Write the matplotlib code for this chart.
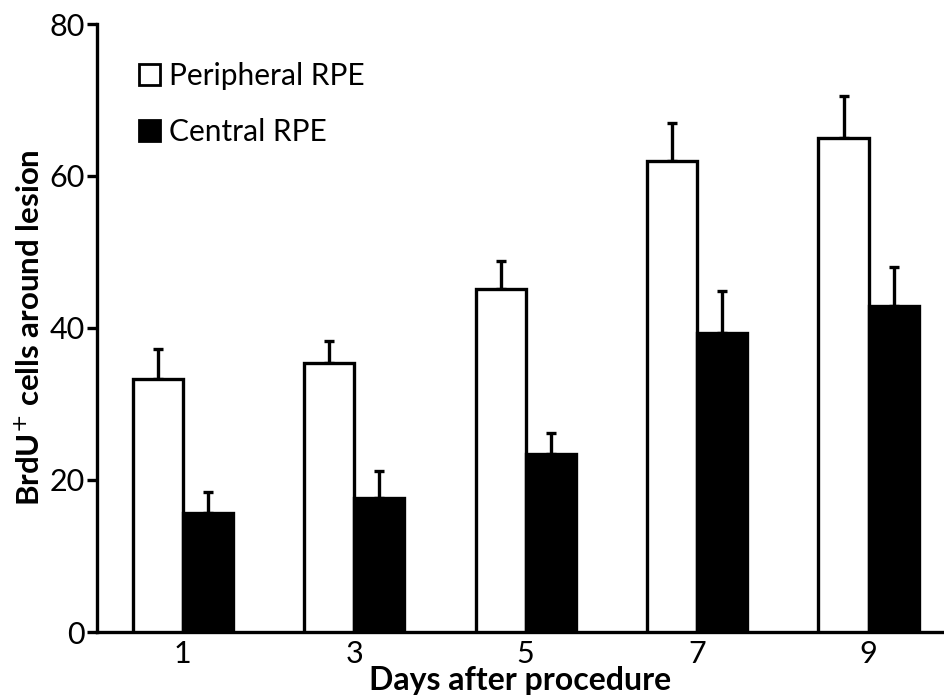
import matplotlib.pyplot as plt
import numpy as np
from matplotlib.patches import Patch

plt.rcParams['font.family'] = ['Lato', 'DejaVu Sans']

# data
days = ['1', '3', '5', '7', '9']
peripheral = [33.3, 35.4, 45.1, 62.0, 65.0]
peripheral_err = [3.9, 2.9, 3.7, 5.0, 5.5]
central = [15.7, 17.6, 23.4, 39.3, 42.9]
central_err = [2.7, 3.6, 2.8, 5.6, 5.1]

fig = plt.figure(figsize=(9.44, 7.0), dpi=100)
ax = fig.add_axes([97 / 944, 1 - 632 / 700, 1 - 97 / 944, 608 / 700])

x = np.arange(len(days))
w = 0.292
lw = 2.4

ax.bar(x - w / 2, peripheral, w, color='white', edgecolor='black', linewidth=lw, zorder=3)
ax.bar(x + w / 2, central, w, color='black', edgecolor='black', linewidth=lw, zorder=3)

# one-sided error bars (upward only)
ax.errorbar(x - w / 2, peripheral, yerr=[np.zeros(len(days)), peripheral_err],
            fmt='none', ecolor='black', elinewidth=2.4, capsize=3.5, capthick=2.4, zorder=2)
ax.errorbar(x + w / 2, central, yerr=[np.zeros(len(days)), central_err],
            fmt='none', ecolor='black', elinewidth=2.4, capsize=3.5, capthick=2.4, zorder=2)

ax.set_xlim(-0.5, 4.44)
ax.set_ylim(0, 80)
ax.set_yticks([0, 20, 40, 60, 80])
ax.set_xticks(x)
ax.set_xticklabels(days)

for s in ['top', 'right']:
    ax.spines[s].set_visible(False)
for s in ['left', 'bottom']:
    ax.spines[s].set_linewidth(2.4)

ax.tick_params(axis='y', length=7, width=2.4, labelsize=22, pad=2)
ax.tick_params(axis='x', length=0, labelsize=22, pad=6)

ax.set_ylabel('BrdU$^{+}$ cells around lesion', fontsize=22.5, fontweight='bold', labelpad=3)
ax.set_xlabel('Days after procedure', fontsize=23, fontweight='bold', labelpad=-2)

handles = [Patch(facecolor='white', edgecolor='black', linewidth=2),
           Patch(facecolor='black', edgecolor='black', linewidth=2)]
ax.legend(handles, ['Peripheral RPE', 'Central RPE'], loc='upper left',
          bbox_to_anchor=(0.018, 0.982), frameon=False, fontsize=21.5,
          handlelength=0.7, handleheight=0.7, handletextpad=0.3, labelspacing=0.95)

fig.savefig('out.png', dpi=100)
